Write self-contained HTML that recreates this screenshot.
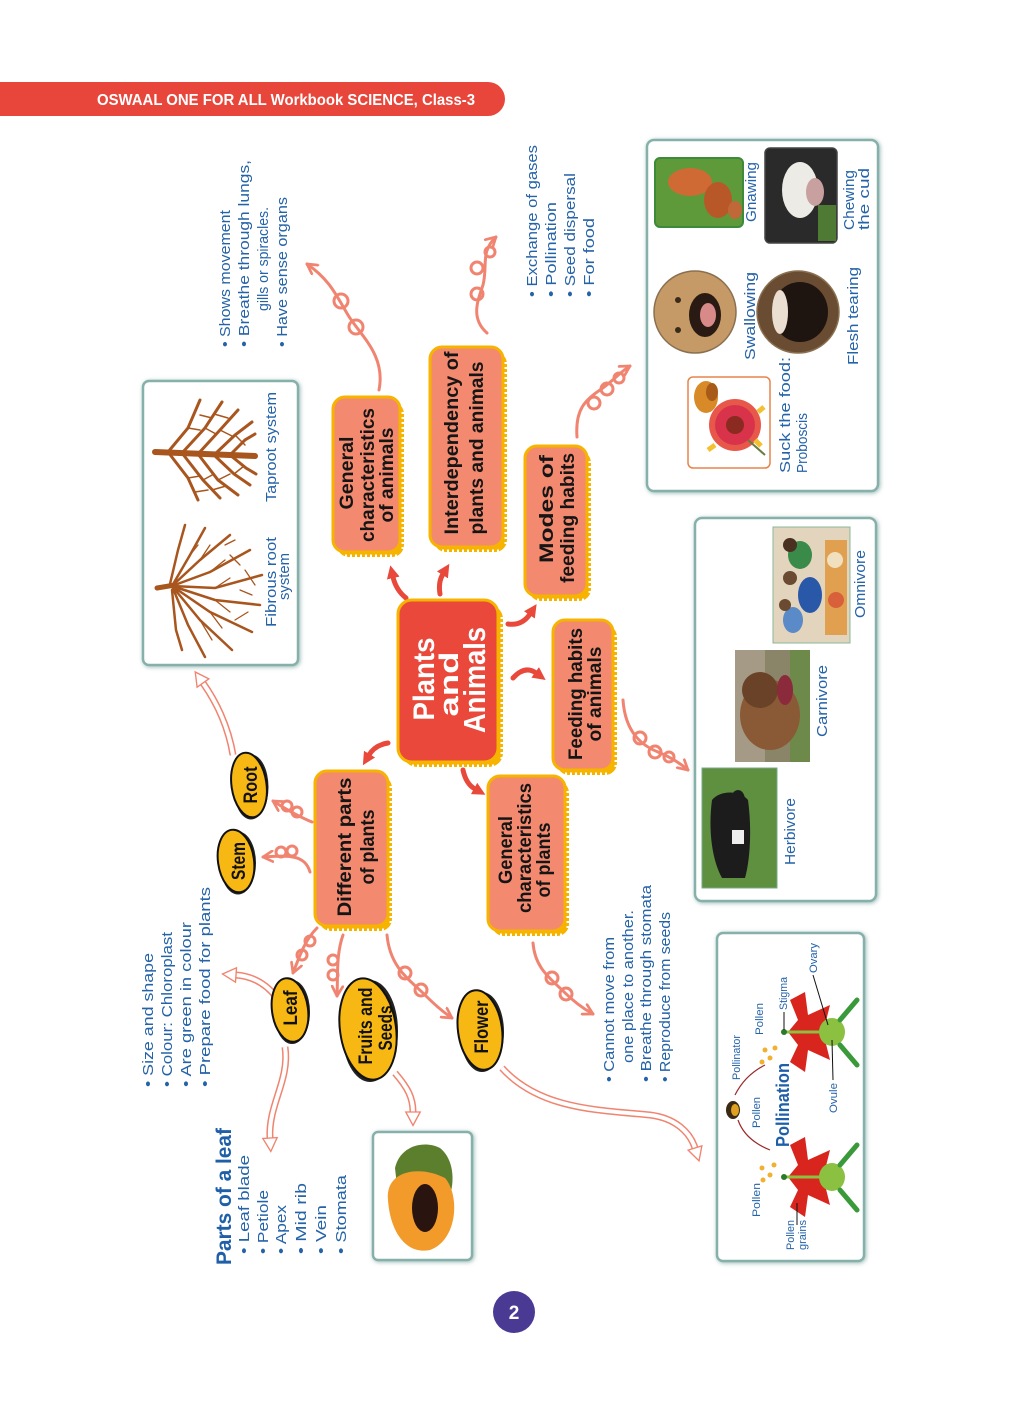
<!DOCTYPE html>
<html><head><meta charset="utf-8">
<style>
html,body{margin:0;padding:0;background:#fff;}
svg{display:block;}
.h{font-family:"Liberation Sans",sans-serif;font-size:15px;fill:#2563a8;}
.s{font-family:"Liberation Sans",sans-serif;font-size:11px;fill:#2563a8;}
.n{font-family:"Liberation Sans",sans-serif;font-weight:bold;font-size:19px;fill:#151515;}
.c{font-family:"Liberation Sans",sans-serif;font-weight:bold;fill:#fff;}
.e{font-family:"Liberation Sans",sans-serif;font-weight:bold;font-size:19px;fill:#111;}
</style></head>
<body>
<svg width="1024" height="1413" viewBox="0 0 1024 1413" xmlns="http://www.w3.org/2000/svg">
<defs>
<marker id="ar" viewBox="0 0 12 12" refX="1" refY="6" markerWidth="13" markerHeight="13" markerUnits="userSpaceOnUse" orient="auto"><path d="M0,0 L12,6 L0,12 z" fill="#e8493a"/></marker>
<marker id="av" viewBox="0 0 12 12" refX="10" refY="6" markerWidth="13" markerHeight="13" markerUnits="userSpaceOnUse" orient="auto"><path d="M1,1 L10,6 L1,11" fill="none" stroke="#f08470" stroke-width="2.5" stroke-linecap="round" stroke-linejoin="round"/></marker>
<marker id="ah" viewBox="0 0 20 20" refX="2" refY="10" markerWidth="18" markerHeight="18" markerUnits="userSpaceOnUse" orient="auto"><path d="M2,2 L17,10 L2,18 z" fill="#fff" stroke="#f08470" stroke-width="1.5"/></marker>
<filter id="sh" x="-10%" y="-10%" width="120%" height="120%"><feDropShadow dx="1" dy="1" stdDeviation="2" flood-color="#6f9c96" flood-opacity="0.7"/></filter>
</defs>

<!-- header -->
<path d="M0,82 H488 A17,17 0 0 1 488,116 H0 z" fill="#e8463a"/>
<text x="97" y="105" font-family="Liberation Sans, sans-serif" font-weight="bold" font-size="16" fill="#fff" textLength="378" lengthAdjust="spacingAndGlyphs">OSWAAL ONE FOR ALL Workbook SCIENCE, Class-3</text>

<!-- page number -->
<circle cx="514" cy="1312" r="21" fill="#4b3a94"/>
<text x="514" y="1319" text-anchor="middle" font-family="Liberation Sans, sans-serif" font-weight="bold" font-size="19" fill="#fff">2</text>

<!-- ======== image boxes ======== -->
<g fill="#fff" stroke="#86b0aa" stroke-width="2.5" filter="url(#sh)">
<rect x="143" y="381" width="155" height="284" rx="6"/>
<rect x="647" y="140" width="231" height="351" rx="7"/>
<rect x="695" y="518" width="181" height="383" rx="7"/>
<rect x="373" y="1132" width="99" height="128" rx="5"/>
<rect x="717" y="933" width="147" height="328" rx="6"/>
</g>

<!-- roots drawings -->
<g stroke="#a8551e" fill="none" stroke-linecap="round">
<path d="M155,452 L255,456" stroke-width="6"/>
<g stroke-width="3">
<path d="M168,452 L188,428 L200,400"/><path d="M168,452 L188,478 L198,500"/>
<path d="M182,453 L205,428 L222,402"/><path d="M182,453 L203,480 L220,498"/>
<path d="M198,454 L220,430 L238,410"/><path d="M198,454 L218,480 L238,495"/>
<path d="M214,455 L235,435 L252,422"/><path d="M214,455 L234,474 L250,485"/>
<path d="M230,455 L245,440 L255,434"/><path d="M230,455 L246,468 L256,474"/>
</g>
<g stroke-width="1.5">
<path d="M188,428 L200,430"/><path d="M200,415 L212,418"/><path d="M188,478 L200,476"/><path d="M195,492 L208,490"/>
<path d="M205,428 L216,434"/><path d="M214,414 L228,418"/><path d="M203,480 L214,474"/><path d="M212,490 L226,486"/>
<path d="M220,430 L232,436"/><path d="M218,480 L230,474"/><path d="M235,435 L245,445"/><path d="M234,474 L244,466"/>
</g>
<path d="M157,588 L175,585" stroke-width="5"/>
<g stroke-width="2.5">
<path d="M172,586 L190,555 L205,528"/><path d="M172,586 L200,560 L230,535"/><path d="M172,586 L210,572 L250,550"/>
<path d="M172,586 L215,588 L262,575"/><path d="M172,586 L215,600 L260,605"/><path d="M172,586 L210,612 L252,632"/>
<path d="M172,586 L200,620 L232,650"/><path d="M172,586 L188,625 L205,657"/><path d="M172,590 L176,630 L182,650"/>
<path d="M170,584 L178,550 L185,525"/>
</g>
<g stroke-width="1.3">
<path d="M190,555 L198,545"/><path d="M200,560 L210,545"/><path d="M210,572 L225,560"/><path d="M215,588 L230,578"/>
<path d="M215,600 L230,612"/><path d="M210,612 L222,628"/><path d="M200,620 L212,640"/><path d="M230,555 L240,565"/>
<path d="M240,590 L252,595"/><path d="M235,620 L248,612"/><path d="M225,545 L235,540"/><path d="M245,570 L255,585"/>
</g>
</g>
<text class="h" transform="translate(276,502) rotate(-90)" textLength="110" lengthAdjust="spacingAndGlyphs">Taproot system</text>
<text class="h" transform="translate(276,627) rotate(-90)" textLength="90" lengthAdjust="spacingAndGlyphs">Fibrous root</text>
<text class="h" transform="translate(289,600) rotate(-90)" textLength="47" lengthAdjust="spacingAndGlyphs">system</text>

<!-- feeding modes images -->
<rect x="688" y="377" width="82" height="91" rx="5" fill="#fff" stroke="#e8834a" stroke-width="1.5"/>
<g>
<circle cx="735" cy="425" r="26" fill="#e8584a"/>
<circle cx="735" cy="425" r="20" fill="#d8334a"/>
<circle cx="735" cy="425" r="9" fill="#8a2a20"/>
<path d="M712,410 l-6,-4 M715,445 l-7,5 M755,440 l6,6 M758,412 l6,-5" stroke="#f2c030" stroke-width="5"/>
<path d="M748,440 L765,455" stroke="#6a7a40" stroke-width="2"/>
<ellipse cx="706" cy="397" rx="12" ry="16" fill="#d88a28"/>
<ellipse cx="712" cy="392" rx="6" ry="9" fill="#a85a18"/>
</g>
<circle cx="695" cy="312" r="41" fill="#c69a66" stroke="#8a7050" stroke-width="1.5"/>
<ellipse cx="705" cy="315" rx="16" ry="22" fill="#2a1a14"/>
<ellipse cx="708" cy="315" rx="8" ry="12" fill="#d88a88"/>
<circle cx="678" cy="300" r="3" fill="#3a2a1a"/><circle cx="678" cy="330" r="3" fill="#3a2a1a"/>
<circle cx="798" cy="312" r="41" fill="#6a4c32" stroke="#8a7050" stroke-width="1.5"/>
<ellipse cx="800" cy="312" rx="28" ry="30" fill="#1e1410"/>
<ellipse cx="780" cy="312" rx="8" ry="22" fill="#eadfd0"/>
<rect x="655" y="158" width="88" height="69" rx="5" fill="#5f9a3a" stroke="#3c8a3a" stroke-width="2"/>
<ellipse cx="690" cy="182" rx="22" ry="14" fill="#d06a34"/>
<ellipse cx="718" cy="200" rx="14" ry="18" fill="#b85828"/>
<ellipse cx="735" cy="210" rx="7" ry="9" fill="#c06838"/>
<rect x="765" y="148" width="72" height="95" rx="5" fill="#2a2a2a" stroke="#444" stroke-width="1.5"/>
<ellipse cx="800" cy="190" rx="18" ry="28" fill="#ecebe6"/>
<ellipse cx="815" cy="192" rx="9" ry="14" fill="#c9a0a0"/>
<rect x="818" y="205" width="18" height="36" fill="#4f7a34"/>
<text class="h" transform="translate(790,473) rotate(-90)" textLength="116" lengthAdjust="spacingAndGlyphs">Suck the food:</text>
<text class="h" transform="translate(807,473) rotate(-90)" textLength="60" lengthAdjust="spacingAndGlyphs">Proboscis</text>
<text class="h" transform="translate(755,360) rotate(-90)" textLength="88" lengthAdjust="spacingAndGlyphs">Swallowing</text>
<text class="h" transform="translate(858,365) rotate(-90)" textLength="98" lengthAdjust="spacingAndGlyphs">Flesh tearing</text>
<text class="h" transform="translate(756,222) rotate(-90)" textLength="60" lengthAdjust="spacingAndGlyphs">Gnawing</text>
<text class="h" transform="translate(854,230) rotate(-90)" textLength="60" lengthAdjust="spacingAndGlyphs">Chewing</text>
<text class="h" transform="translate(869,230) rotate(-90)" textLength="62" lengthAdjust="spacingAndGlyphs">the cud</text>

<!-- feeding habits images -->
<rect x="702" y="768" width="75" height="120" fill="#5e9040" stroke="#7aa88a" stroke-width="1"/>
<path d="M712,800 C708,830 712,860 722,878 L745,878 C750,860 752,830 748,800 C740,790 720,790 712,800 z" fill="#1c1c1c"/>
<ellipse cx="738" cy="800" rx="7" ry="10" fill="#1c1c1c"/>
<rect x="732" y="830" width="12" height="14" fill="#eee"/>
<rect x="735" y="650" width="75" height="112" fill="#8a8468"/>
<rect x="735" y="650" width="30" height="112" fill="#a49a86"/>
<rect x="790" y="650" width="20" height="112" fill="#6e8a4a"/>
<ellipse cx="770" cy="715" rx="30" ry="35" fill="#8a5a36"/>
<ellipse cx="760" cy="690" rx="18" ry="18" fill="#6a4228"/>
<ellipse cx="785" cy="690" rx="8" ry="15" fill="#8a2a3a"/>
<rect x="773" y="527" width="77" height="116" fill="#e3d4be" stroke="#8ab89a" stroke-width="1"/>
<ellipse cx="810" cy="595" rx="12" ry="18" fill="#2a58a8"/>
<ellipse cx="800" cy="555" rx="12" ry="14" fill="#3a8a4a"/>
<ellipse cx="793" cy="620" rx="10" ry="13" fill="#5a8ac8"/>
<circle cx="790" cy="578" r="7" fill="#6a4a30"/><circle cx="790" cy="545" r="7" fill="#4a3020"/><circle cx="785" cy="605" r="6" fill="#6a4a30"/>
<rect x="825" y="540" width="22" height="95" fill="#e0a050"/>
<circle cx="835" cy="560" r="8" fill="#f0e0c0"/><circle cx="836" cy="600" r="8" fill="#d8603a"/>
<text class="h" transform="translate(795,865) rotate(-90)" textLength="67" lengthAdjust="spacingAndGlyphs">Herbivore</text>
<text class="h" transform="translate(827,737) rotate(-90)" textLength="72" lengthAdjust="spacingAndGlyphs">Carnivore</text>
<text class="h" transform="translate(865,618) rotate(-90)" textLength="68" lengthAdjust="spacingAndGlyphs">Omnivore</text>

<!-- papaya -->
<path d="M395,1168 C400,1145 425,1140 440,1148 C455,1160 455,1185 448,1200 L398,1195 z" fill="#5c7f2e"/>
<path d="M388,1200 C385,1170 420,1165 445,1178 C460,1195 458,1240 430,1250 C405,1255 390,1230 388,1200 z" fill="#f29a2a"/>
<ellipse cx="425" cy="1208" rx="13" ry="24" fill="#2a1410"/>

<!-- pollination -->
<g>
<path d="M790,1000 L805,992 L808,1015 L830,1005 L825,1025 L845,1032 L825,1040 L830,1060 L808,1050 L805,1072 L790,1062 L798,1045 L788,1032 L798,1020 z" fill="#d8261e"/>
<path d="M790,1145 L805,1137 L808,1160 L830,1150 L825,1170 L845,1177 L825,1185 L830,1205 L808,1195 L805,1217 L790,1207 L798,1190 L788,1177 L798,1165 z" fill="#d8261e"/>
<ellipse cx="832" cy="1032" rx="13" ry="14" fill="#8cc040"/>
<ellipse cx="832" cy="1177" rx="13" ry="14" fill="#8cc040"/>
<path d="M840,1020 L857,1000 M840,1045 L857,1065 M840,1165 L857,1145 M840,1190 L857,1210" stroke="#3a9a3a" stroke-width="5" stroke-linecap="round"/>
<line x1="784" y1="1032" x2="825" y2="1032" stroke="#8cc040" stroke-width="3"/>
<line x1="784" y1="1177" x2="825" y2="1177" stroke="#8cc040" stroke-width="3"/>
<circle cx="784" cy="1032" r="3" fill="#2a7a2a"/><circle cx="784" cy="1177" r="3" fill="#2a7a2a"/>
<g fill="#f0b030"><circle cx="765" cy="1050" r="2.5"/><circle cx="770" cy="1058" r="2.5"/><circle cx="762" cy="1062" r="2.5"/><circle cx="775" cy="1048" r="2.5"/>
<circle cx="762" cy="1168" r="2.5"/><circle cx="770" cy="1175" r="2.5"/><circle cx="763" cy="1180" r="2.5"/><circle cx="774" cy="1165" r="2.5"/></g>
<ellipse cx="733" cy="1110" rx="7" ry="9" fill="#3a2a14"/><ellipse cx="735" cy="1110" rx="4" ry="6" fill="#e0a020"/>
<path d="M770,1150 Q745,1140 738,1120 M735,1095 Q745,1075 765,1065" fill="none" stroke="#9a2a2a" stroke-width="1.2"/>
</g>
<text transform="translate(789,1147) rotate(-90)" font-family="Liberation Sans, sans-serif" font-weight="bold" font-size="18" fill="#1f5fa8" textLength="84" lengthAdjust="spacingAndGlyphs">Pollination</text>
<text class="s" transform="translate(740,1080) rotate(-90)" textLength="45" lengthAdjust="spacingAndGlyphs">Pollinator</text>
<text class="s" transform="translate(760,1128) rotate(-90)" textLength="31" lengthAdjust="spacingAndGlyphs">Pollen</text>
<text class="s" transform="translate(763,1035) rotate(-90)" textLength="32" lengthAdjust="spacingAndGlyphs">Pollen</text>
<text class="s" transform="translate(760,1217) rotate(-90)" textLength="34" lengthAdjust="spacingAndGlyphs">Pollen</text>
<text class="s" transform="translate(794,1250) rotate(-90)" textLength="30" lengthAdjust="spacingAndGlyphs">Pollen</text>
<text class="s" transform="translate(806,1250) rotate(-90)" textLength="30" lengthAdjust="spacingAndGlyphs">grains</text>
<text class="s" transform="translate(787,1010) rotate(-90)" textLength="33" lengthAdjust="spacingAndGlyphs">Stigma</text>
<text class="s" transform="translate(817,973) rotate(-90)" textLength="30" lengthAdjust="spacingAndGlyphs">Ovary</text>
<text class="s" transform="translate(837,1113) rotate(-90)" textLength="30" lengthAdjust="spacingAndGlyphs">Ovule</text>
<line x1="797" y1="1225" x2="797" y2="1203" stroke="#111" stroke-width="1"/>
<line x1="784" y1="1012" x2="784" y2="1030" stroke="#111" stroke-width="1"/>
<line x1="813" y1="975" x2="828" y2="1025" stroke="#111" stroke-width="1"/>
<line x1="833" y1="1080" x2="832" y2="1040" stroke="#111" stroke-width="1"/>

<!-- ======== connectors ======== -->
<g fill="none" stroke="#f08470" stroke-width="3" stroke-linecap="round">
<path d="M379,390 C386,355 360,335 348,315 C336,295 330,280 307,264" marker-end="url(#av)"/>
<circle cx="356" cy="327" r="7"/><circle cx="341" cy="301" r="7"/>
<path d="M487,333 C470,318 478,300 483,285 C488,265 480,252 496,237" marker-end="url(#av)"/>
<circle cx="477" cy="294" r="6"/><circle cx="477" cy="268" r="6"/><circle cx="490" cy="252" r="5"/>
<path d="M577,437 C575,410 585,400 600,390 C612,382 620,372 630,366" marker-end="url(#av)"/>
<circle cx="594" cy="403" r="6"/><circle cx="607" cy="389" r="6"/><circle cx="619" cy="378" r="5"/>
<path d="M623,700 C625,730 640,745 658,752 C670,757 680,763 688,770" marker-end="url(#av)"/>
<circle cx="640" cy="738" r="6"/><circle cx="655" cy="752" r="6"/><circle cx="669" cy="757" r="5"/>
<path d="M533,943 C535,968 550,978 562,990 C572,1000 582,1008 593,1014" marker-end="url(#av)"/>
<circle cx="552" cy="978" r="6"/><circle cx="566" cy="994" r="6"/>
<path d="M312,822 C302,818 292,813 273,801" marker-end="url(#av)"/>
<circle cx="297" cy="812" r="5"/><circle cx="287" cy="806" r="5"/>
<path d="M310,872 C305,855 290,855 263,857" marker-end="url(#av)"/>
<circle cx="292" cy="851" r="5"/><circle cx="281" cy="852" r="5"/>
<path d="M317,928 C305,940 300,955 293,973" marker-end="url(#av)"/>
<circle cx="310" cy="941" r="5"/><circle cx="302" cy="955" r="5"/>
<path d="M343,935 C336,955 338,975 337,996" marker-end="url(#av)"/>
<circle cx="333" cy="960" r="5"/><circle cx="333" cy="975" r="5"/>
<path d="M387,935 C390,968 410,980 425,995 C435,1005 443,1012 452,1018" marker-end="url(#av)"/>
<circle cx="405" cy="973" r="6"/><circle cx="421" cy="990" r="6"/>
</g>

<!-- double hollow arrows -->
<g fill="none" stroke-linecap="butt">
<g stroke="#f08470" stroke-width="7">
<path d="M233,755 C228,725 215,700 203,683"/>
<path d="M277,998 C265,982 250,976 236,975"/>
<path d="M285,1047 C290,1080 268,1105 270,1138"/>
<path d="M395,1073 C408,1088 413,1098 413,1112"/>
<path d="M502,1068 C540,1110 600,1110 650,1115 C675,1118 690,1132 695,1148"/>
</g>
<g stroke="#fff" stroke-width="4">
<path d="M233,755 C228,725 215,700 203,683" marker-end="url(#ah)"/>
<path d="M277,998 C265,982 250,976 236,975" marker-end="url(#ah)"/>
<path d="M285,1047 C290,1080 268,1105 270,1138" marker-end="url(#ah)"/>
<path d="M395,1073 C408,1088 413,1098 413,1112" marker-end="url(#ah)"/>
<path d="M502,1068 C540,1110 600,1110 650,1115 C675,1118 690,1132 695,1148" marker-end="url(#ah)"/>
</g>
</g>

<!-- red arrows -->
<g fill="none" stroke="#e8493a" stroke-width="5" stroke-linecap="round">
<path d="M406,598 Q396,590 393,577" marker-end="url(#ar)"/>
<path d="M440,594 Q438,582 443,574" marker-end="url(#ar)"/>
<path d="M508,624 Q522,626 530,614" marker-end="url(#ar)"/>
<path d="M513,678 Q525,665 536,673" marker-end="url(#ar)"/>
<path d="M463,770 Q466,784 475,789" marker-end="url(#ar)"/>
<path d="M388,743 Q375,745 369,755" marker-end="url(#ar)"/>
</g>

<!-- ======== nodes ======== -->
<g stroke-linecap="butt">
<rect x="337" y="402" width="67" height="155" rx="12" fill="#f6b300"/>
<path d="M403,412 V552 M345,556 H398" stroke="#fff" stroke-width="3" stroke-dasharray="2 3"/>
<rect x="333" y="397" width="67" height="155" rx="12" fill="#f3896f" stroke="#f6b300" stroke-width="3"/>
<rect x="434" y="352" width="73" height="200" rx="12" fill="#f6b300"/>
<path d="M506,362 V545 M442,551 H500" stroke="#fff" stroke-width="3" stroke-dasharray="2 3"/>
<rect x="430" y="347" width="73" height="200" rx="12" fill="#f3896f" stroke="#f6b300" stroke-width="3"/>
<rect x="529" y="451" width="62" height="150" rx="12" fill="#f6b300"/>
<path d="M590,461 V595 M537,600 H585" stroke="#fff" stroke-width="3" stroke-dasharray="2 3"/>
<rect x="525" y="446" width="62" height="150" rx="12" fill="#f3896f" stroke="#f6b300" stroke-width="3"/>
<rect x="403" y="605" width="100" height="162" rx="14" fill="#f6b300"/>
<path d="M502,617 V760 M412,766 H496" stroke="#fff" stroke-width="3" stroke-dasharray="2 3"/>
<rect x="398" y="600" width="100" height="162" rx="14" fill="#e9483a" stroke="#f6b300" stroke-width="3"/>
<rect x="557" y="625" width="60" height="150" rx="12" fill="#f6b300"/>
<path d="M616,635 V768 M565,774 H610" stroke="#fff" stroke-width="3" stroke-dasharray="2 3"/>
<rect x="553" y="620" width="60" height="150" rx="12" fill="#f3896f" stroke="#f6b300" stroke-width="3"/>
<rect x="492" y="781" width="77" height="155" rx="12" fill="#f6b300"/>
<path d="M568,791 V930 M500,935 H562" stroke="#fff" stroke-width="3" stroke-dasharray="2 3"/>
<rect x="488" y="776" width="77" height="155" rx="12" fill="#f3896f" stroke="#f6b300" stroke-width="3"/>
<rect x="319" y="776" width="73" height="155" rx="12" fill="#f6b300"/>
<path d="M391,786 V925 M327,930 H385" stroke="#fff" stroke-width="3" stroke-dasharray="2 3"/>
<rect x="315" y="771" width="73" height="155" rx="12" fill="#f3896f" stroke="#f6b300" stroke-width="3"/>
</g>

<!-- node texts -->
<text class="n" text-anchor="middle" transform="translate(353,473) rotate(-90)" textLength="73" lengthAdjust="spacingAndGlyphs">General</text>
<text class="n" text-anchor="middle" transform="translate(374,475) rotate(-90)" textLength="134" lengthAdjust="spacingAndGlyphs">characteristics</text>
<text class="n" text-anchor="middle" transform="translate(393,475) rotate(-90)" textLength="95" lengthAdjust="spacingAndGlyphs">of animals</text>

<text class="n" text-anchor="middle" transform="translate(458,443) rotate(-90)" textLength="183" lengthAdjust="spacingAndGlyphs">Interdependency of</text>
<text class="n" text-anchor="middle" transform="translate(483,448) rotate(-90)" textLength="173" lengthAdjust="spacingAndGlyphs">plants and animals</text>

<text class="n" text-anchor="middle" transform="translate(553,509) rotate(-90)" textLength="108" lengthAdjust="spacingAndGlyphs">Modes of</text>
<text class="n" text-anchor="middle" transform="translate(574,518) rotate(-90)" textLength="130" lengthAdjust="spacingAndGlyphs">feeding habits</text>

<text class="c" font-size="30" text-anchor="middle" transform="translate(434,679) rotate(-90)" textLength="83" lengthAdjust="spacingAndGlyphs">Plants</text>
<text class="c" font-size="27" text-anchor="middle" transform="translate(458,684) rotate(-90)" textLength="65" lengthAdjust="spacingAndGlyphs">and</text>
<text class="c" font-size="31" text-anchor="middle" transform="translate(485,680) rotate(-90)" textLength="106" lengthAdjust="spacingAndGlyphs">Animals</text>

<text class="n" text-anchor="middle" transform="translate(582,694) rotate(-90)" textLength="132" lengthAdjust="spacingAndGlyphs">Feeding habits</text>
<text class="n" text-anchor="middle" transform="translate(601,694) rotate(-90)" textLength="95" lengthAdjust="spacingAndGlyphs">of animals</text>

<text class="n" text-anchor="middle" transform="translate(512,850) rotate(-90)" textLength="68" lengthAdjust="spacingAndGlyphs">General</text>
<text class="n" text-anchor="middle" transform="translate(531,848) rotate(-90)" textLength="130" lengthAdjust="spacingAndGlyphs">characteristics</text>
<text class="n" text-anchor="middle" transform="translate(550,860) rotate(-90)" textLength="75" lengthAdjust="spacingAndGlyphs">of plants</text>

<text class="n" text-anchor="middle" transform="translate(351,847) rotate(-90)" textLength="139" lengthAdjust="spacingAndGlyphs">Different parts</text>
<text class="n" text-anchor="middle" transform="translate(374,847) rotate(-90)" textLength="75" lengthAdjust="spacingAndGlyphs">of plants</text>

<!-- ellipses -->
<g stroke="#111" stroke-width="2" fill="#f7b813">
<ellipse cx="251" cy="787" rx="17.5" ry="32.5" fill="#222" stroke="none"/>
<ellipse cx="249" cy="785" rx="17.5" ry="32.5" transform="rotate(-8 249 785)"/>
<ellipse cx="238" cy="863" rx="18" ry="31.5" fill="#222" stroke="none"/>
<ellipse cx="236" cy="861" rx="18" ry="31.5" transform="rotate(-8 236 861)"/>
<ellipse cx="292" cy="1012" rx="18" ry="32" fill="#222" stroke="none"/>
<ellipse cx="290" cy="1010" rx="18" ry="32" transform="rotate(-8 290 1010)"/>
<ellipse cx="370" cy="1031" rx="28" ry="51" fill="#222" stroke="none"/>
<ellipse cx="368" cy="1029" rx="28" ry="51" transform="rotate(-8 368 1029)"/>
<ellipse cx="482" cy="1032" rx="22" ry="40" fill="#222" stroke="none"/>
<ellipse cx="480" cy="1030" rx="22" ry="40" transform="rotate(-8 480 1030)"/>
</g>
<text class="e" text-anchor="middle" transform="translate(257,785) rotate(-90)" textLength="37" lengthAdjust="spacingAndGlyphs">Root</text>
<text class="e" text-anchor="middle" transform="translate(245,861) rotate(-90)" textLength="38" lengthAdjust="spacingAndGlyphs">Stem</text>
<text class="e" text-anchor="middle" transform="translate(297,1008) rotate(-90)" textLength="35" lengthAdjust="spacingAndGlyphs">Leaf</text>
<text class="e" text-anchor="middle" transform="translate(372,1026) rotate(-90)" textLength="77" lengthAdjust="spacingAndGlyphs">Fruits and</text>
<text class="e" text-anchor="middle" transform="translate(392,1028) rotate(-90)" textLength="45" lengthAdjust="spacingAndGlyphs">Seeds</text>
<text class="e" text-anchor="middle" transform="translate(488,1027) rotate(-90)" textLength="53" lengthAdjust="spacingAndGlyphs">Flower</text>

<!-- ======== text lists ======== -->
<text class="h" transform="translate(230,347) rotate(-90)" textLength="137" lengthAdjust="spacingAndGlyphs">• Shows movement</text>
<text class="h" transform="translate(249,347) rotate(-90)" textLength="187" lengthAdjust="spacingAndGlyphs">• Breathe through lungs,</text>
<text class="h" transform="translate(268,311) rotate(-90)" textLength="104" lengthAdjust="spacingAndGlyphs">gills or spiracles.</text>
<text class="h" transform="translate(287,347) rotate(-90)" textLength="150" lengthAdjust="spacingAndGlyphs">• Have sense organs</text>

<text class="h" transform="translate(537,297) rotate(-90)" textLength="152" lengthAdjust="spacingAndGlyphs">• Exchange of gases</text>
<text class="h" transform="translate(556,297) rotate(-90)" textLength="95" lengthAdjust="spacingAndGlyphs">• Pollination</text>
<text class="h" transform="translate(575,297) rotate(-90)" textLength="124" lengthAdjust="spacingAndGlyphs">• Seed dispersal</text>
<text class="h" transform="translate(594,297) rotate(-90)" textLength="79" lengthAdjust="spacingAndGlyphs">• For food</text>

<text class="h" transform="translate(153,1087) rotate(-90)" textLength="134" lengthAdjust="spacingAndGlyphs">• Size and shape</text>
<text class="h" transform="translate(172,1087) rotate(-90)" textLength="155" lengthAdjust="spacingAndGlyphs">• Colour: Chloroplast</text>
<text class="h" transform="translate(191,1087) rotate(-90)" textLength="165" lengthAdjust="spacingAndGlyphs">• Are green in colour</text>
<text class="h" transform="translate(210,1087) rotate(-90)" textLength="200" lengthAdjust="spacingAndGlyphs">• Prepare food for plants</text>

<text transform="translate(231,1265) rotate(-90)" font-family="Liberation Sans, sans-serif" font-weight="bold" font-size="21" fill="#1f5fa8" textLength="137" lengthAdjust="spacingAndGlyphs">Parts of a leaf</text>
<text class="h" transform="translate(249,1254) rotate(-90)" textLength="99" lengthAdjust="spacingAndGlyphs">• Leaf blade</text>
<text class="h" transform="translate(268,1254) rotate(-90)" textLength="64" lengthAdjust="spacingAndGlyphs">• Petiole</text>
<text class="h" transform="translate(286,1254) rotate(-90)" textLength="49" lengthAdjust="spacingAndGlyphs">• Apex</text>
<text class="h" transform="translate(306,1254) rotate(-90)" textLength="71" lengthAdjust="spacingAndGlyphs">• Mid rib</text>
<text class="h" transform="translate(326,1254) rotate(-90)" textLength="49" lengthAdjust="spacingAndGlyphs">• Vein</text>
<text class="h" transform="translate(346,1254) rotate(-90)" textLength="79" lengthAdjust="spacingAndGlyphs">• Stomata</text>

<text class="h" transform="translate(614,1082) rotate(-90)" textLength="145" lengthAdjust="spacingAndGlyphs">• Cannot move from</text>
<text class="h" transform="translate(633,1063) rotate(-90)" textLength="153" lengthAdjust="spacingAndGlyphs">one place to another.</text>
<text class="h" transform="translate(651,1082) rotate(-90)" textLength="197" lengthAdjust="spacingAndGlyphs">• Breathe through stomata</text>
<text class="h" transform="translate(670,1082) rotate(-90)" textLength="170" lengthAdjust="spacingAndGlyphs">• Reproduce from seeds</text>
</svg>
</body></html>
